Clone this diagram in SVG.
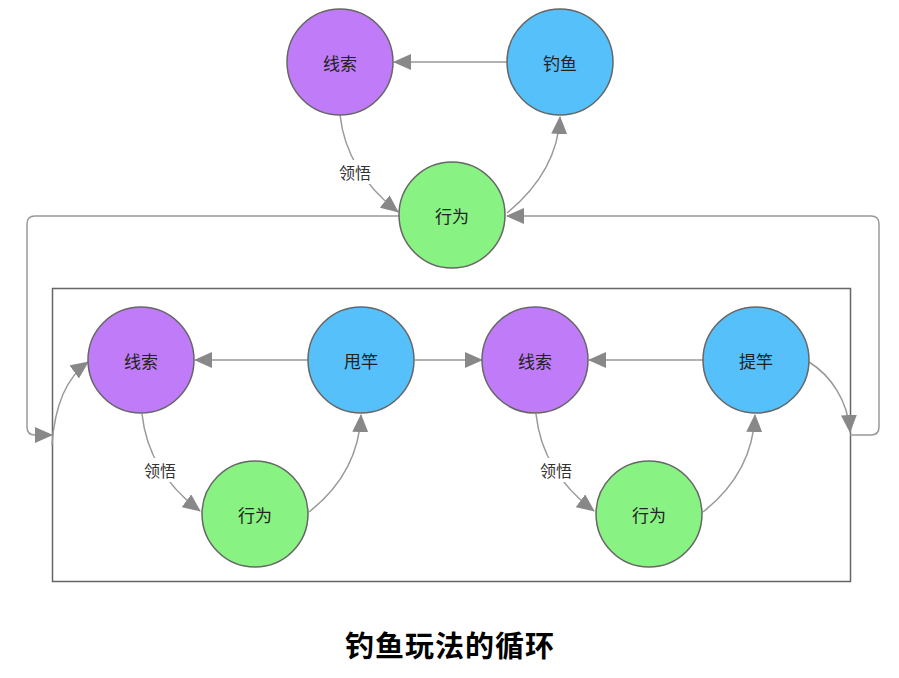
<svg xmlns="http://www.w3.org/2000/svg" width="899" height="678" viewBox="0 0 899 678">
<style>
.edge{fill:none;stroke:#999;stroke-width:1.5}
.node circle{stroke:#666;stroke-width:1.5}
.clue circle{fill:#c07cf8}
.act circle{fill:#88f283}
.fish circle{fill:#56c0fa}
.lbl{font-family:"Noto Sans CJK SC","Noto Sans",sans-serif;font-size:17px;fill:#222;text-anchor:middle;dominant-baseline:central}
.elbl{font-family:"Noto Sans CJK SC","Noto Sans",sans-serif;font-size:16px;fill:#333;text-anchor:middle;dominant-baseline:central}
.title{font-family:"Noto Sans CJK SC","Noto Sans",sans-serif;font-size:29px;font-weight:bold;fill:#000;text-anchor:middle}
</style>
<defs>
<marker id="arr" markerUnits="userSpaceOnUse" markerWidth="18" markerHeight="16" refX="17" refY="8" orient="auto" viewBox="0 0 18 16">
<path d="M0,0 L18,8 L0,16 z" fill="#888"/>
</marker>
</defs>
<rect width="899" height="678" fill="#fff"/>
<rect id="box" x="52.5" y="288.5" width="798" height="293" fill="none" stroke="#666" stroke-width="1.5"/>
<g id="connectors">
<path class="edge" d="M507,62 H394" marker-end="url(#arr)"/>
<path class="edge" d="M340,115 C345,160 370,190 398,212" marker-end="url(#arr)"/>
<path class="edge" d="M507,213 C535,190 558,160 560,117" marker-end="url(#arr)"/>
<path class="edge" d="M399,216 H35 Q27,216 27,224 V427 Q27,435 35,435 H52" marker-end="url(#arr)"/>
<path class="edge" d="M850,435 H871 Q879,435 879,427 V224 Q879,216 871,216 H507" marker-end="url(#arr)"/>
<path class="edge" d="M52,445 C55,400 70,375 88,362" marker-end="url(#arr)"/>
<path class="edge" d="M308,360 H195" marker-end="url(#arr)"/>
<path class="edge" d="M142,414 C147,460 172,490 200,511" marker-end="url(#arr)"/>
<path class="edge" d="M309,512 C337,490 359,460 361,415" marker-end="url(#arr)"/>
<path class="edge" d="M415,360 H482" marker-end="url(#arr)"/>
<path class="edge" d="M703,360 H589" marker-end="url(#arr)"/>
<path class="edge" d="M536,414 C541,460 566,490 594,511" marker-end="url(#arr)"/>
<path class="edge" d="M703,512 C731,490 753,460 755,415" marker-end="url(#arr)"/>
<path class="edge" d="M809,362 C830,375 848,400 850,432" marker-end="url(#arr)"/>
<rect x="334" y="160" width="42" height="24" fill="#fff"/>
<text class="elbl" x="355" y="172">领悟</text>
<rect x="139" y="458" width="42" height="24" fill="#fff"/>
<text class="elbl" x="160" y="470">领悟</text>
<rect x="535" y="458" width="42" height="24" fill="#fff"/>
<text class="elbl" x="556" y="470">领悟</text>
</g>
<g id="n-clue-top" class="node clue"><circle cx="340" cy="62" r="53"/><text class="lbl" x="340" y="62">线索</text></g>
<g id="n-fish-top" class="node fish"><circle cx="560" cy="62" r="53"/><text class="lbl" x="560" y="62">钓鱼</text></g>
<g id="n-act-top" class="node act"><circle cx="452" cy="215" r="53"/><text class="lbl" x="452" y="215">行为</text></g>
<g id="n-clue-1" class="node clue"><circle cx="141" cy="360" r="53"/><text class="lbl" x="141" y="360">线索</text></g>
<g id="n-cast" class="node fish"><circle cx="361" cy="360" r="53"/><text class="lbl" x="361" y="360">甩竿</text></g>
<g id="n-act-1" class="node act"><circle cx="255" cy="514" r="53"/><text class="lbl" x="255" y="514">行为</text></g>
<g id="n-clue-2" class="node clue"><circle cx="535" cy="360" r="53"/><text class="lbl" x="535" y="360">线索</text></g>
<g id="n-lift" class="node fish"><circle cx="756" cy="360" r="53"/><text class="lbl" x="756" y="360">提竿</text></g>
<g id="n-act-2" class="node act"><circle cx="649" cy="514" r="53"/><text class="lbl" x="649" y="514">行为</text></g>
<text class="title" x="450" y="657" letter-spacing="1">钓鱼玩法的循环</text>
</svg>
